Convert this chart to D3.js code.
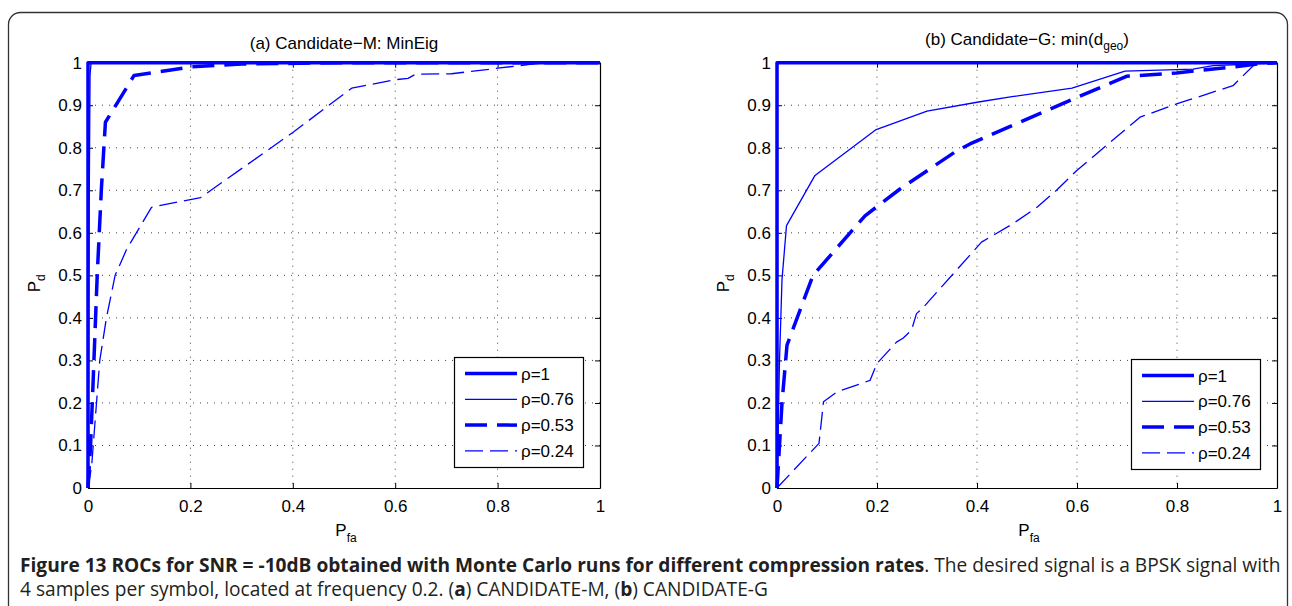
<!DOCTYPE html>
<html>
<head>
<meta charset="utf-8">
<script src="https://cdn.jsdelivr.net/npm/d3@7"></script>
<style>
body { margin: 0; background: #fff; }
text { font-family: "Liberation Sans", Arial, sans-serif; fill: #000; }
</style>
</head>
<body>
<svg id="chart" width="1292" height="606"></svg>
<script>
const xTicks = [0, 0.2, 0.4, 0.6, 0.8, 1];
const yTicks = [0, 0.1, 0.2, 0.3, 0.4, 0.5, 0.6, 0.7, 0.8, 0.9, 1];
const legendLabels = ["ρ=1", "ρ=0.76", "ρ=0.53", "ρ=0.24"];

// (a) Candidate-M: MinEig  -- [Pfa, Pd]
const minEigRho100 = [[0, 0], [0, 1], [1, 1]];
const minEigRho076 = [[0, 0], [0.002, 0.6], [0.004, 0.97], [0.006, 1], [1, 1]];
const minEigRho053 = [[0, 0], [0.005, 0.1], [0.01, 0.25], [0.018, 0.5], [0.026, 0.7], [0.034, 0.86],
  [0.09, 0.97], [0.2, 0.99], [0.3, 0.997], [0.5, 1], [1, 1]];
const minEigRho024 = [[0, 0], [0.007, 0.05], [0.023, 0.3], [0.036, 0.4], [0.053, 0.5], [0.075, 0.56],
  [0.124, 0.66], [0.22, 0.683], [0.4, 0.836], [0.515, 0.94], [0.6, 0.96], [0.625, 0.963],
  [0.64, 0.973], [0.71, 0.974], [0.8, 0.987], [0.87, 0.997], [0.9, 1], [1, 1]];

// (b) Candidate-G: min(d_geo)
const geoRho100 = [[0, 0], [0, 1], [1, 1]];
const geoRho076 = [[0, 0], [0.005, 0.3], [0.01, 0.49], [0.019, 0.617], [0.076, 0.735], [0.197, 0.842],
  [0.3, 0.886], [0.4, 0.907], [0.47, 0.92], [0.59, 0.94], [0.696, 0.98], [0.832, 0.985],
  [0.872, 0.993], [0.952, 0.997], [1, 1]];
const geoRho053 = [[0, 0], [0.01, 0.2], [0.02, 0.336], [0.072, 0.5], [0.176, 0.64], [0.246, 0.703],
  [0.356, 0.79], [0.386, 0.809], [0.599, 0.918], [0.699, 0.968], [0.799, 0.976], [0.912, 0.99],
  [0.962, 0.997], [1, 1]];
const geoRho024 = [[0, 0], [0.084, 0.105], [0.093, 0.203], [0.12, 0.226], [0.186, 0.253], [0.2, 0.293],
  [0.239, 0.343], [0.252, 0.352], [0.269, 0.371], [0.279, 0.41], [0.289, 0.42], [0.409, 0.578],
  [0.47, 0.62], [0.52, 0.66], [0.559, 0.7], [0.599, 0.746], [0.726, 0.872], [0.799, 0.903],
  [0.912, 0.946], [0.956, 0.997], [1, 1]];

const seriesStyle = [
  { width: 3.5, dash: null },
  { width: 1.3, dash: null },
  { width: 3.5, dash: "22,10" },
  { width: 1.3, dash: "18,7" }
];

const svg = d3.select("#chart");

svg.append("rect").attr("width", 1292).attr("height", 606).attr("fill", "#fff");
svg.append("rect")
  .attr("x", 8.5).attr("y", 12.5).attr("width", 1279).attr("height", 640)
  .attr("rx", 12).attr("fill", "none").attr("stroke", "#333").attr("stroke-width", 1.3);

drawPanel({ left: 88, right: 600, top: 62.7, bottom: 488, legendTop: 357 },
  [minEigRho100, minEigRho076, minEigRho053, minEigRho024],
  t => t.text("(a) Candidate\u2212M: MinEig"), 49);

drawPanel({ left: 777, right: 1277, top: 62.7, bottom: 488, legendTop: 359 },
  [geoRho100, geoRho076, geoRho053, geoRho024],
  t => {
    t.append("tspan").text("(b) Candidate\u2212G: min(d");
    t.append("tspan").attr("dy", 5).style("font-size", "12px").text("geo");
    t.append("tspan").attr("dy", -5).text(")");
  }, 45);

function drawPanel(box, series, titleFn, titleY) {
  let x = d3.scaleLinear().domain([0, 1]).range([box.left, box.right]);
  let y = d3.scaleLinear().domain([0, 1]).range([box.bottom, box.top]);
  let g = svg.append("g");

  // dotted grid
  g.selectAll(".gx").data(xTicks.slice(1, -1)).enter().append("line")
    .attr("x1", d => x(d)).attr("x2", d => x(d))
    .attr("y1", box.top).attr("y2", box.bottom)
    .attr("stroke", "#444").attr("stroke-width", 1).attr("stroke-dasharray", "1,6");
  g.selectAll(".gy").data(yTicks.slice(1, -1)).enter().append("line")
    .attr("y1", d => y(d)).attr("y2", d => y(d))
    .attr("x1", box.left).attr("x2", box.right)
    .attr("stroke", "#444").attr("stroke-width", 1).attr("stroke-dasharray", "1,6");

  // axes box with inward ticks on all sides
  let xAxisB = d3.axisBottom(x).tickValues(xTicks).tickSizeInner(-5).tickSizeOuter(0).tickPadding(12)
    .tickFormat(d3.format("~g"));
  let xAxisT = d3.axisTop(x).tickValues(xTicks).tickSizeInner(-5).tickSizeOuter(0).tickFormat("");
  let yAxisL = d3.axisLeft(y).tickValues(yTicks).tickSizeInner(-5).tickSizeOuter(0).tickPadding(6)
    .tickFormat(d3.format("~g"));
  let yAxisR = d3.axisRight(y).tickValues(yTicks).tickSizeInner(-5).tickSizeOuter(0).tickFormat("");

  [[xAxisB, `translate(0,${box.bottom})`], [xAxisT, `translate(0,${box.top})`],
   [yAxisL, `translate(${box.left},0)`], [yAxisR, `translate(${box.right},0)`]].forEach(a => {
    let ag = g.append("g").attr("transform", a[1]).call(a[0]);
    ag.select(".domain").attr("stroke", "#000").attr("stroke-width", 1.2);
    ag.selectAll(".tick line").attr("stroke", "#000");
    ag.selectAll(".tick text").style("font-size", "17px").style("font-family", "'Liberation Sans', Arial, sans-serif");
  });

  // title
  let t = g.append("text").attr("x", (box.left + box.right) / 2).attr("y", titleY)
    .attr("text-anchor", "middle").style("font-size", "17px");
  titleFn(t);

  // axis labels
  let yl = g.append("text")
    .attr("transform", `translate(${box.left - 48},${(box.top + box.bottom) / 2 + 8}) rotate(-90)`)
    .attr("text-anchor", "middle").style("font-size", "17px");
  yl.append("tspan").text("P");
  yl.append("tspan").attr("dy", 5).style("font-size", "12px").text("d");

  let xl = g.append("text").attr("x", (box.left + box.right) / 2 + 2).attr("y", 536)
    .attr("text-anchor", "middle").style("font-size", "17px");
  xl.append("tspan").text("P");
  xl.append("tspan").attr("dy", 6).style("font-size", "12px").text("fa");

  // curves
  let line = d3.line().x(d => x(d[0])).y(d => y(d[1]));
  series.forEach((s, i) => {
    g.append("path").datum(s).attr("d", line)
      .attr("fill", "none").attr("stroke", "#0000ff")
      .attr("stroke-width", seriesStyle[i].width)
      .attr("stroke-dasharray", seriesStyle[i].dash)
      .attr("stroke-linejoin", "round");
  });

  // legend
  let lw = 129, lh = 110;
  let lx = box.right - 17 - lw, ly = box.legendTop;
  let lg = g.append("g").attr("transform", `translate(${lx},${ly})`);
  lg.append("rect").attr("x", 0.5).attr("y", 0.5).attr("width", lw).attr("height", lh)
    .attr("fill", "#fff").attr("stroke", "#000").attr("stroke-width", 1.2);
  legendLabels.forEach((lab, i) => {
    let ry = 16.5 + i * 25.8;
    lg.append("line").attr("x1", 11).attr("x2", 63).attr("y1", ry).attr("y2", ry)
      .attr("stroke", "#0000ff").attr("stroke-width", seriesStyle[i].width)
      .attr("stroke-dasharray", seriesStyle[i].dash);
    lg.append("text").attr("x", 67).attr("y", ry + 6).style("font-size", "17px").text(lab);
  });
}

// caption
const capFont = "'Open Sans', 'Noto Sans', sans-serif";
const cap1 = svg.append("text").attr("x", 20).attr("y", 572)
  .style("font-family", capFont).style("font-size", "15px").style("fill", "#231f20");
cap1.append("tspan").attr("font-weight", "bold")
  .text("Figure 13 ROCs for SNR = -10dB obtained with Monte Carlo runs for different compression rates");
cap1.append("tspan").text(". The desired signal is a BPSK signal with");
const capSize = 15 * 1261 / cap1.node().getComputedTextLength();
cap1.style("font-size", capSize + "px");

const cap2 = svg.append("text").attr("x", 20).attr("y", 596)
  .style("font-family", capFont).style("font-size", capSize + "px").style("fill", "#231f20");
cap2.append("tspan").text("4 samples per symbol, located at frequency 0.2. (");
cap2.append("tspan").attr("font-weight", "bold").text("a");
cap2.append("tspan").text(") CANDIDATE-M, (");
cap2.append("tspan").attr("font-weight", "bold").text("b");
cap2.append("tspan").text(") CANDIDATE-G");
</script>
</body>
</html>
